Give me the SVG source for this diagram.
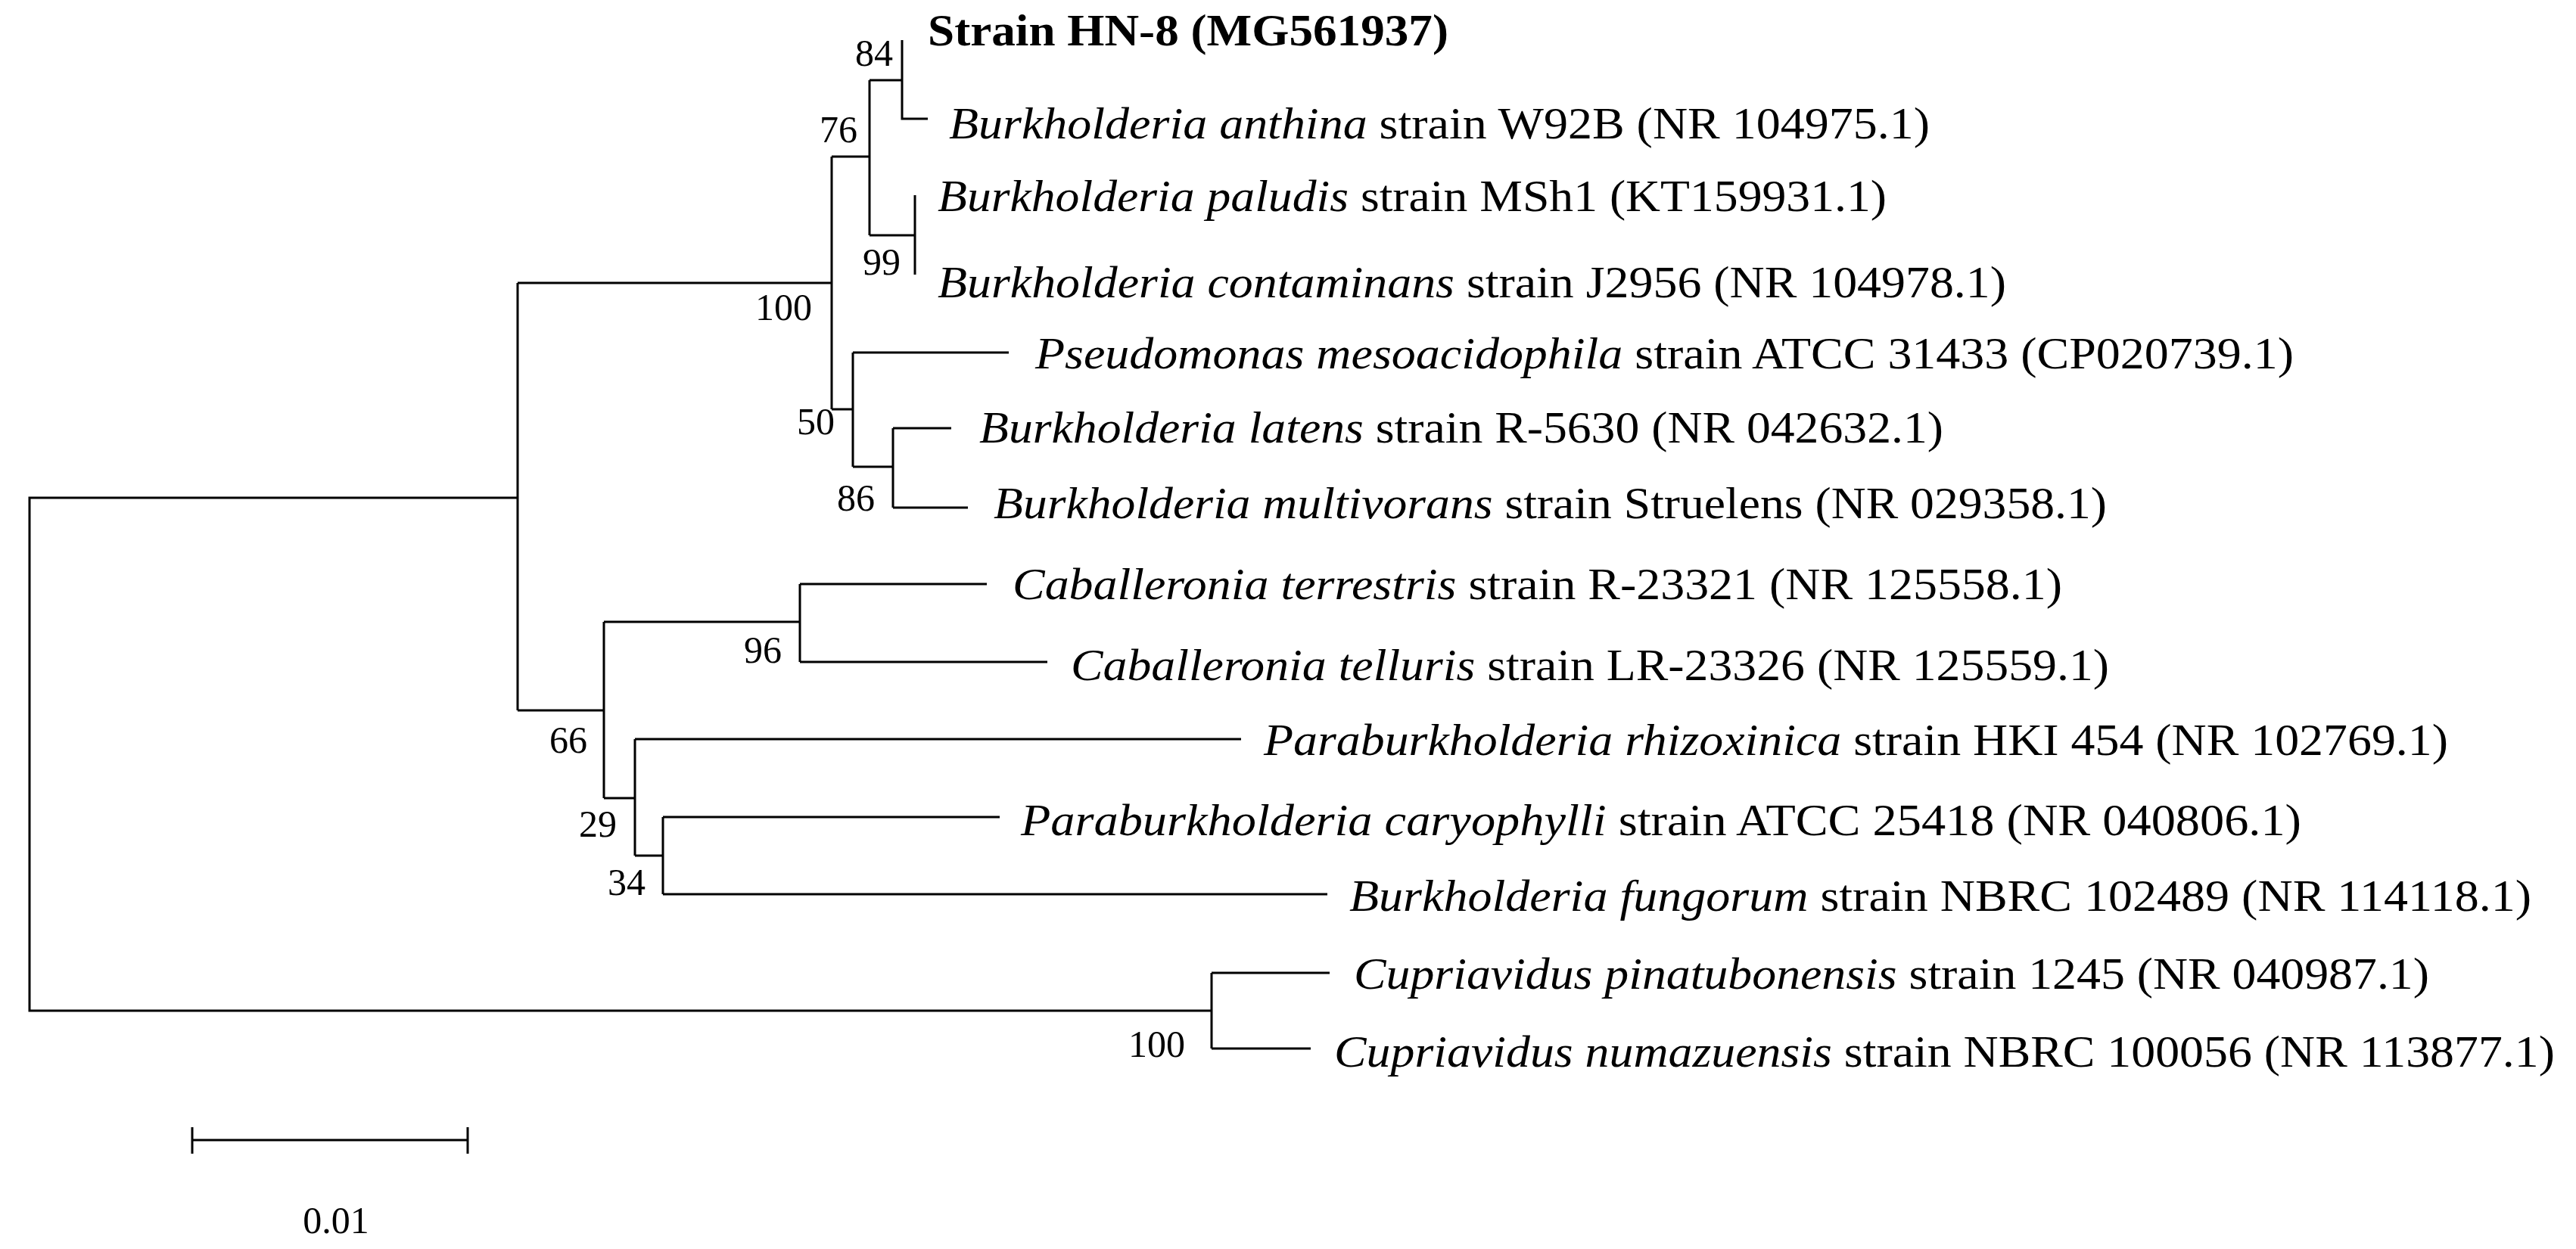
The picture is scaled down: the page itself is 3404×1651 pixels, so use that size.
<svg xmlns="http://www.w3.org/2000/svg" width="3404" height="1651" viewBox="0 0 3404 1651">
<style>
.t{font-family:"Liberation Serif","Times New Roman",serif;font-size:60px;fill:#000}
.i{font-style:italic}
.b{font-family:"Liberation Serif","Times New Roman",serif;font-size:50px;fill:#000}
.c path{fill:none;stroke:#000;stroke-width:3}
</style>
<rect width="3404" height="1651" fill="#fff"/>
<g id="connectors" class="c">
<path d="M684,658 H39 V1336 H1601"/>
<path d="M684,374 V939"/>
<path d="M684,374 H1099 M1099,207 V541"/>
<path d="M1099,207 H1149 M1149,106 V311"/>
<path d="M1149,106 H1192 M1192,53 V157 H1226"/>
<path d="M1149,311 H1209 M1209,258 V363"/>
<path d="M1099,541 H1127 M1127,466 V617 M1127,466 H1333"/>
<path d="M1127,617 H1180 M1180,566 V671 M1180,566 H1257 M1180,671 H1279"/>
<path d="M684,939 H798 M798,822 V1055"/>
<path d="M798,822 H1057 M1057,772 V875 M1057,772 H1304 M1057,875 H1384"/>
<path d="M798,1055 H839 M839,977 V1131 M839,977 H1640"/>
<path d="M839,1131 H876 M876,1080 V1182 M876,1080 H1321 M876,1182 H1754"/>
<path d="M1601,1286 V1386 M1601,1286 H1757 M1601,1386 H1732"/>
<path d="M254,1507 H618 M254,1490 V1525 M618,1490 V1525"/>
</g>
<g id="leaves">
<text class="t" x="1226" y="60" font-weight="bold" textLength="688" lengthAdjust="spacingAndGlyphs">Strain HN-8 (MG561937)</text>
<text class="t" x="1254" y="183" textLength="1296" lengthAdjust="spacingAndGlyphs"><tspan class="i">Burkholderia anthina</tspan> strain W92B (NR 104975.1)</text>
<text class="t" x="1239" y="279" textLength="1254" lengthAdjust="spacingAndGlyphs"><tspan class="i">Burkholderia paludis</tspan> strain MSh1 (KT159931.1)</text>
<text class="t" x="1239" y="393" textLength="1412" lengthAdjust="spacingAndGlyphs"><tspan class="i">Burkholderia contaminans</tspan> strain J2956 (NR 104978.1)</text>
<text class="t" x="1368" y="487" textLength="1663" lengthAdjust="spacingAndGlyphs"><tspan class="i">Pseudomonas mesoacidophila</tspan> strain ATCC 31433 (CP020739.1)</text>
<text class="t" x="1294" y="585" textLength="1274" lengthAdjust="spacingAndGlyphs"><tspan class="i">Burkholderia latens</tspan> strain R-5630 (NR 042632.1)</text>
<text class="t" x="1313" y="685" textLength="1471" lengthAdjust="spacingAndGlyphs"><tspan class="i">Burkholderia multivorans</tspan> strain Struelens (NR 029358.1)</text>
<text class="t" x="1338" y="792" textLength="1387" lengthAdjust="spacingAndGlyphs"><tspan class="i">Caballeronia terrestris</tspan> strain R-23321 (NR 125558.1)</text>
<text class="t" x="1415" y="899" textLength="1372" lengthAdjust="spacingAndGlyphs"><tspan class="i">Caballeronia telluris</tspan> strain LR-23326 (NR 125559.1)</text>
<text class="t" x="1670" y="998" textLength="1565" lengthAdjust="spacingAndGlyphs"><tspan class="i">Paraburkholderia rhizoxinica</tspan> strain HKI 454 (NR 102769.1)</text>
<text class="t" x="1349" y="1104" textLength="1692" lengthAdjust="spacingAndGlyphs"><tspan class="i">Paraburkholderia caryophylli</tspan> strain ATCC 25418 (NR 040806.1)</text>
<text class="t" x="1783" y="1204" textLength="1562" lengthAdjust="spacingAndGlyphs"><tspan class="i">Burkholderia fungorum</tspan> strain NBRC 102489 (NR 114118.1)</text>
<text class="t" x="1789" y="1307" textLength="1421" lengthAdjust="spacingAndGlyphs"><tspan class="i">Cupriavidus pinatubonensis</tspan> strain 1245 (NR 040987.1)</text>
<text class="t" x="1763" y="1410" textLength="1613" lengthAdjust="spacingAndGlyphs"><tspan class="i">Cupriavidus numazuensis</tspan> strain NBRC 100056 (NR 113877.1)</text>
</g>
<g id="bootstrap" text-anchor="end">
<text class="b" x="1180" y="87">84</text>
<text class="b" x="1133" y="188">76</text>
<text class="b" x="1190" y="363">99</text>
<text class="b" x="1073" y="423">100</text>
<text class="b" x="1103" y="574">50</text>
<text class="b" x="1156" y="675">86</text>
<text class="b" x="1033" y="876">96</text>
<text class="b" x="776" y="995">66</text>
<text class="b" x="815" y="1106">29</text>
<text class="b" x="853" y="1183">34</text>
<text class="b" x="1566" y="1397">100</text>
</g>
<g id="scale">
<text class="b" x="444" y="1630" text-anchor="middle">0.01</text>
</g>
</svg>
